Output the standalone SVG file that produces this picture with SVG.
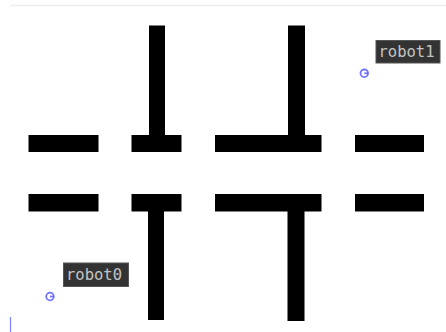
<svg xmlns="http://www.w3.org/2000/svg" width="446" height="332" viewBox="0 0 446 332">
<style>
.wall{fill:#000}
.lbl rect{fill:#333;stroke:#555;stroke-width:1}
.lbl text{font-family:"DejaVu Sans Mono","Liberation Mono",monospace;font-size:15.5px;fill:#c4c4c4}
.bot{fill:none;stroke:#5a5aff;stroke-width:1.8;opacity:0.85}
</style>
<rect width="446" height="332" fill="#fff"/>
<line x1="10" y1="5.5" x2="446" y2="5.5" stroke="#eee" stroke-width="1.5"/>
<line x1="10.5" y1="317" x2="10.5" y2="332" stroke="#8080ff" stroke-width="1.2"/>
<g id="walls">
<rect class="wall" x="28.5" y="135" width="70" height="17"/>
<rect class="wall" x="131.5" y="135" width="50" height="17"/>
<rect class="wall" x="149" y="25.5" width="16" height="110"/>
<rect class="wall" x="215" y="135" width="106.5" height="17"/>
<rect class="wall" x="288" y="25.5" width="17" height="110"/>
<rect class="wall" x="355" y="135" width="69" height="17"/>
<rect class="wall" x="28.5" y="194" width="70" height="17.5"/>
<rect class="wall" x="131.5" y="194" width="50" height="17.5"/>
<rect class="wall" x="148" y="211" width="16" height="109"/>
<rect class="wall" x="215" y="194" width="106.5" height="17.5"/>
<rect class="wall" x="287.5" y="211" width="17" height="110"/>
<rect class="wall" x="355" y="194" width="69" height="17.5"/>
</g>
<g id="robot1">
<g class="lbl"><rect x="376" y="40.5" width="64" height="22.5"/><text x="378.5" y="57">robot1</text></g>
<circle class="bot" cx="364.3" cy="73.3" r="3.8"/><line class="bot" x1="364.3" y1="73.3" x2="368" y2="73.3"/>
</g>
<g id="robot0">
<g class="lbl"><rect x="63.5" y="263" width="65" height="23.5"/><text x="66" y="280">robot0</text></g>
<circle class="bot" cx="50" cy="296.5" r="3.8"/><line class="bot" x1="50" y1="296.5" x2="53.7" y2="296.5"/>
</g>
</svg>
